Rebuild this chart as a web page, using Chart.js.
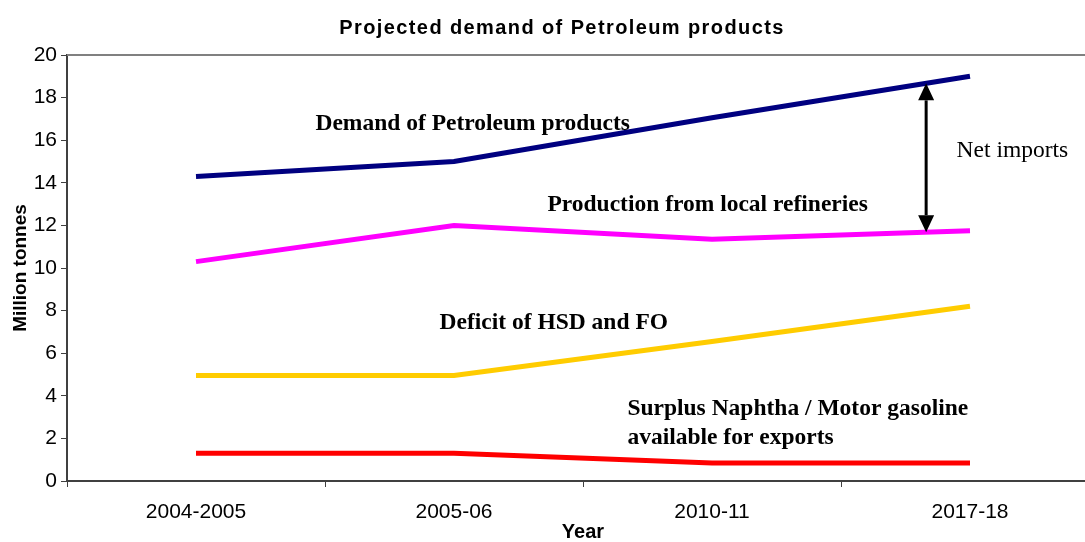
<!DOCTYPE html>
<html>
<head>
<meta charset="utf-8">
<script src="https://cdn.jsdelivr.net/npm/chart.js@4"></script>
<style>
  html, body { margin: 0; padding: 0; background: #fff; overflow: hidden; }
  #wrap { width: 1085px; height: 542px; overflow: hidden; }
</style>
</head>
<body>
<div id="wrap"><canvas id="chart" width="1100" height="542"></canvas></div>
<script>
const years = ['2004-2005', '2005-06', '2010-11', '2017-18']
const demand = [14.3, 15.0, 17.05, 19.0]
const production = [10.3, 12.0, 11.35, 11.75]
const deficit = [4.95, 4.95, 6.55, 8.2]
const surplus = [1.3, 1.3, 0.85, 0.85]
const yTicks = [0, 2, 4, 6, 8, 10, 12, 14, 16, 18, 20]

const serif = '"Liberation Serif", "Times New Roman", serif'
const sans = '"Liberation Sans", Arial, sans-serif'

// text labels placed in data coordinates (category index, value)
const notes = [
  { text: 'Demand of Petroleum products', x: 0.463, y: 16.75, bold: true },
  { text: 'Production from local refineries', x: 1.362, y: 12.95, bold: true },
  { text: 'Deficit of HSD and FO', x: 0.944, y: 7.4, bold: true },
  { text: 'Surplus Naphtha / Motor gasoline', x: 1.672, y: 3.38, bold: true },
  { text: 'available for exports', x: 1.672, y: 2.0, bold: true },
  { text: 'Net imports', x: 2.948, y: 15.5, bold: false },
]
const arrowAt = 2.83

const lerp = (arr, t) => {
  const i = Math.floor(t)
  return arr[i] + (arr[i + 1] - arr[i]) * (t - i)
}

const extras = {
  id: 'extras',
  afterDraw(chart) {
    const { ctx, chartArea, scales } = chart
    const xs = scales.x, ys = scales.y
    const px = v => xs.getPixelForValue(0) + (xs.getPixelForValue(1) - xs.getPixelForValue(0)) * v
    ctx.save()
    // top border of the plot
    ctx.strokeStyle = '#808080'
    ctx.lineWidth = 2
    ctx.beginPath()
    ctx.moveTo(chartArea.left, chartArea.top)
    ctx.lineTo(chartArea.right, chartArea.top)
    ctx.stroke()

    // title
    ctx.fillStyle = '#000'
    ctx.font = 'bold 20px ' + sans
    ctx.letterSpacing = '1.4px'
    ctx.textAlign = 'center'
    ctx.textBaseline = 'middle'
    ctx.fillText('Projected demand of Petroleum products', 562, 28)
    ctx.letterSpacing = '0px'

    // annotations
    ctx.textAlign = 'left'
    notes.forEach(n => {
      ctx.font = (n.bold ? 'bold ' : '') + '23.5px ' + serif
      ctx.fillText(n.text, px(n.x), ys.getPixelForValue(n.y))
    })

    // net imports arrow
    const ax = px(arrowAt)
    const y1 = ys.getPixelForValue(lerp(demand, arrowAt))
    const y2 = ys.getPixelForValue(lerp(production, arrowAt))
    const h = 17, w = 8
    ctx.strokeStyle = '#000'
    ctx.lineWidth = 3
    ctx.beginPath()
    ctx.moveTo(ax, y1 + h)
    ctx.lineTo(ax, y2 - h)
    ctx.stroke()
    ctx.beginPath()
    ctx.moveTo(ax, y1)
    ctx.lineTo(ax - w, y1 + h)
    ctx.lineTo(ax + w, y1 + h)
    ctx.closePath()
    ctx.moveTo(ax, y2)
    ctx.lineTo(ax - w, y2 - h)
    ctx.lineTo(ax + w, y2 - h)
    ctx.closePath()
    ctx.fill()
    ctx.restore()
  },
}

const line = (data, color) => ({
  data,
  borderColor: color,
  backgroundColor: color,
  borderWidth: 5,
  pointRadius: 0,
  tension: 0,
  fill: false,
})

new Chart(document.getElementById('chart'), {
  type: 'line',
  data: {
    labels: years,
    datasets: [
      line(demand, '#000080'),
      line(production, '#ff00ff'),
      line(deficit, '#ffcc00'),
      line(surplus, '#ff0000'),
    ],
  },
  options: {
    responsive: false,
    animation: false,
    layout: { padding: { top: 55, right: 1, left: 0, bottom: 0 } },
    plugins: {
      legend: { display: false },
      tooltip: { enabled: false },
      title: { display: false },
    },
    scales: {
      x: {
        offset: true,
        grid: { offset: true, drawOnChartArea: false, tickLength: 6, color: '#404040', lineWidth: 1 },
        border: { color: '#404040', width: 2 },
        ticks: { color: '#000', font: { family: sans, size: 21 }, padding: 13, maxRotation: 0 },
        title: {
          display: true,
          text: 'Year',
          color: '#000',
          font: { family: sans, size: 20, weight: 'bold', lineHeight: 1.0 },
          padding: { top: 0, bottom: 0 },
        },
        afterFit(scale) { scale.height = 61 },
      },
      y: {
        min: 0,
        max: 20,
        afterBuildTicks(scale) { scale.ticks = yTicks.map(v => ({ value: v })) },
        grid: { drawOnChartArea: false, tickLength: 6, color: '#404040' },
        border: { color: '#404040', width: 2 },
        ticks: { color: '#000', font: { family: sans, size: 21 }, padding: 4 },
        title: {
          display: true,
          text: 'Million tonnes',
          color: '#000',
          font: { family: sans, size: 19, weight: 'bold', lineHeight: 1.0 },
          padding: { top: 11, bottom: 0 },
        },
        afterFit(scale) { scale.width = 67 },
      },
    },
  },
  plugins: [extras],
})
</script>
</body>
</html>
